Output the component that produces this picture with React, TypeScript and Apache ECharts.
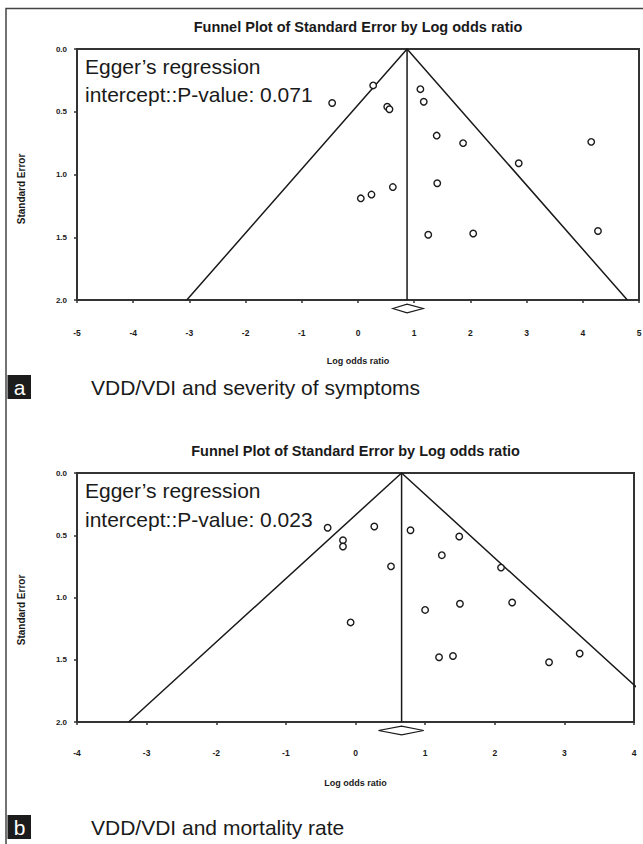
import React, { useEffect, useRef } from "react";
import * as echarts from "echarts";

// ---------- Data ----------
// Panel a: VDD/VDI and severity of symptoms
const topLogOdds = [0.27, -0.46, 0.52, 0.56, 1.11, 1.17, 1.4, 1.87, 4.15, 2.86, 0.05, 0.24, 0.62, 1.41, 1.25, 2.05, 4.27];
const topStdErr = [0.29, 0.43, 0.46, 0.48, 0.32, 0.42, 0.69, 0.75, 0.74, 0.91, 1.19, 1.16, 1.1, 1.07, 1.48, 1.47, 1.45];
const topPooled = [0.62, 0.873, 1.16]; // lower CI, estimate, upper CI

// Panel b: VDD/VDI and mortality rate
const botLogOdds = [-0.4, 0.27, 0.79, 1.49, -0.18, -0.18, 1.24, 0.51, 2.09, 1.0, 1.5, 2.25, -0.07, 1.2, 1.4, 2.78, 3.22];
const botStdErr = [0.44, 0.43, 0.46, 0.51, 0.54, 0.59, 0.66, 0.75, 0.76, 1.1, 1.05, 1.04, 1.2, 1.48, 1.47, 1.52, 1.45];
const botPooled = [0.33, 0.662, 0.98];

const topXTicks = { min: -5, max: 5, interval: 1 };
const botXTicks = { min: -4, max: 4, interval: 1 };
const seTicks = { min: 0, max: 2, interval: 0.5 };

const chartTitle = "Funnel Plot of Standard Error by Log odds ratio";
const xName = "Log odds ratio";
const yName = "Standard Error";
const eggerLine1 = "Egger\u2019s regression";
const topEgger = "intercept::P-value: 0.071";
const botEgger = "intercept::P-value: 0.023";
const topCaption = "VDD/VDI and severity of symptoms";
const botCaption = "VDD/VDI and mortality rate";
const panelLetters = ["a", "b"];

const FONT = "'Liberation Sans', Arial, Helvetica, sans-serif";
const INK = "#1a1a1a";

function zip(a: number[], b: number[]) {
  return a.map((v, i) => [v, b[i]]);
}

function funnel(mean: number, seMax: number) {
  return [
    [mean - 1.96 * seMax, seMax],
    [mean, 0],
    [mean + 1.96 * seMax, seMax],
  ];
}

function diamondRender(params: any, api: any) {
  const lo = api.coord([api.value(0), seTicks.max]);
  const mid = api.coord([api.value(1), seTicks.max]);
  const hi = api.coord([api.value(2), seTicks.max]);
  const cy = mid[1] + 8.5;
  const h = 4.4;
  return {
    type: "polygon",
    shape: {
      points: [
        [lo[0], cy],
        [mid[0], cy - h],
        [hi[0], cy],
        [mid[0], cy + h],
      ],
    },
    style: { fill: "#fff", stroke: INK, lineWidth: 1.2 },
  };
}

function makeXAxis(gridIndex: number, t: any, margin: number) {
  return {
    type: "value",
    gridIndex,
    position: "bottom",
    min: t.min,
    max: t.max,
    interval: t.interval,
    axisLine: { show: false, onZero: false },
    axisTick: { show: true, length: 3, lineStyle: { color: "#333", width: 1.5 } },
    splitLine: { show: false },
    axisLabel: {
      margin,
      fontSize: 8.5,
      fontWeight: "bold",
      color: INK,
      fontFamily: FONT,
    },
  };
}

function makeYAxis(gridIndex: number) {
  return {
    type: "value",
    gridIndex,
    position: "left",
    inverse: true,
    min: seTicks.min,
    max: seTicks.max,
    interval: seTicks.interval,
    axisLine: { show: false, onZero: false },
    axisTick: { show: true, length: 3, lineStyle: { color: "#333", width: 1.5 } },
    splitLine: { show: false },
    axisLabel: {
      margin: 10,
      fontSize: 8,
      fontWeight: "bold",
      color: INK,
      fontFamily: FONT,
      formatter: (v: number) => v.toFixed(1),
    },
  };
}

function panelSeries(idx: number, xs: number[], ys: number[], pooled: number[]) {
  const mean = pooled[1];
  return [
    {
      type: "line",
      xAxisIndex: idx,
      yAxisIndex: idx,
      data: funnel(mean, seTicks.max),
      symbol: "none",
      lineStyle: { color: INK, width: 1.5 },
      z: 3,
    },
    {
      type: "line",
      xAxisIndex: idx,
      yAxisIndex: idx,
      data: [
        [mean, seTicks.min],
        [mean, seTicks.max],
      ],
      symbol: "none",
      lineStyle: { color: INK, width: 1.5 },
      z: 3,
    },
    {
      type: "scatter",
      xAxisIndex: idx,
      yAxisIndex: idx,
      data: zip(xs, ys),
      symbol: "circle",
      symbolSize: 6.5,
      itemStyle: { color: "#fff", borderColor: INK, borderWidth: 1.4, opacity: 1 },
      z: 5,
    },
    {
      type: "custom",
      xAxisIndex: idx,
      yAxisIndex: idx,
      data: [pooled],
      renderItem: diamondRender,
      clip: false,
      z: 6,
    },
  ];
}

function txt(text: string, x: number, y: number, size: number, opts: any = {}) {
  return {
    type: "text",
    x,
    y,
    rotation: opts.rotation || 0,
    z: 10,
    style: {
      text,
      fill: opts.fill || INK,
      font: `${opts.bold ? "bold " : ""}${size}px ${FONT}`,
      textAlign: opts.align || "left",
      textVerticalAlign: "middle",
    },
  };
}

export default function App() {
  const ref = useRef<HTMLDivElement>(null);

  useEffect(() => {
    if (!ref.current) return;
    const chart = echarts.init(ref.current, null, { renderer: "svg" });

    const grids = [
      { left: 77, top: 49, width: 562, height: 251 },
      { left: 77, top: 473, width: 557, height: 249 },
    ];

    const graphic: any[] = [
      {
        type: "rect",
        shape: { x: 6, y: 8.5, width: 900, height: 1000 },
        style: { fill: "none", stroke: "#444", lineWidth: 1.5 },
        z: 0,
      },
    ];

    const captions = [topCaption, botCaption];
    const eggers = [topEgger, botEgger];
    const captionY = [387, 827];
    const eggerY = [[66, 94], [490, 519]];
    const yNameY = [189, 610];
    grids.forEach((g, i) => {
      const cx = g.left + g.width / 2;
      graphic.push(txt(chartTitle, cx, g.top - 22, 14.5, { bold: true, align: "center" }));
      graphic.push(txt(xName, cx, g.top + g.height + 61, 9, { bold: true, align: "center" }));
      graphic.push(txt(yName, 21, yNameY[i], 10, { bold: true, align: "center", rotation: Math.PI / 2 }));
      graphic.push(txt(eggerLine1, 85, eggerY[i][0], 21));
      graphic.push(txt(eggers[i], 85, eggerY[i][1], 21));
      graphic.push({
        type: "rect",
        shape: { x: 7.5, y: captionY[i] - 12, width: 23.5, height: 24 },
        style: { fill: "#1c1c1c" },
        z: 10,
      });
      graphic.push(txt(panelLetters[i], 19.5, captionY[i] + 0.5, 21, { align: "center", fill: "#fff" }));
      graphic.push(txt(captions[i], 91, captionY[i], 21));
    });

    const option: any = {
      animation: false,
      backgroundColor: "#fff",
      textStyle: { fontFamily: FONT },
      grid: grids.map((g) => ({
        ...g,
        show: true,
        borderColor: "#333",
        borderWidth: 2,
        backgroundColor: "transparent",
        containLabel: false,
        outerBoundsMode: "none",
      })),
      xAxis: [makeXAxis(0, topXTicks, 28), makeXAxis(1, botXTicks, 26.5)],
      yAxis: [makeYAxis(0), makeYAxis(1)],
      series: [
        ...panelSeries(0, topLogOdds, topStdErr, topPooled),
        ...panelSeries(1, botLogOdds, botStdErr, botPooled),
      ],
      graphic,
    };

    chart.setOption(option);
    return () => chart.dispose();
  }, []);

  return (
    <div
      ref={ref}
      style={{ position: "fixed", left: 0, top: 0, width: 643, height: 844, background: "#fff" }}
    />
  );
}
